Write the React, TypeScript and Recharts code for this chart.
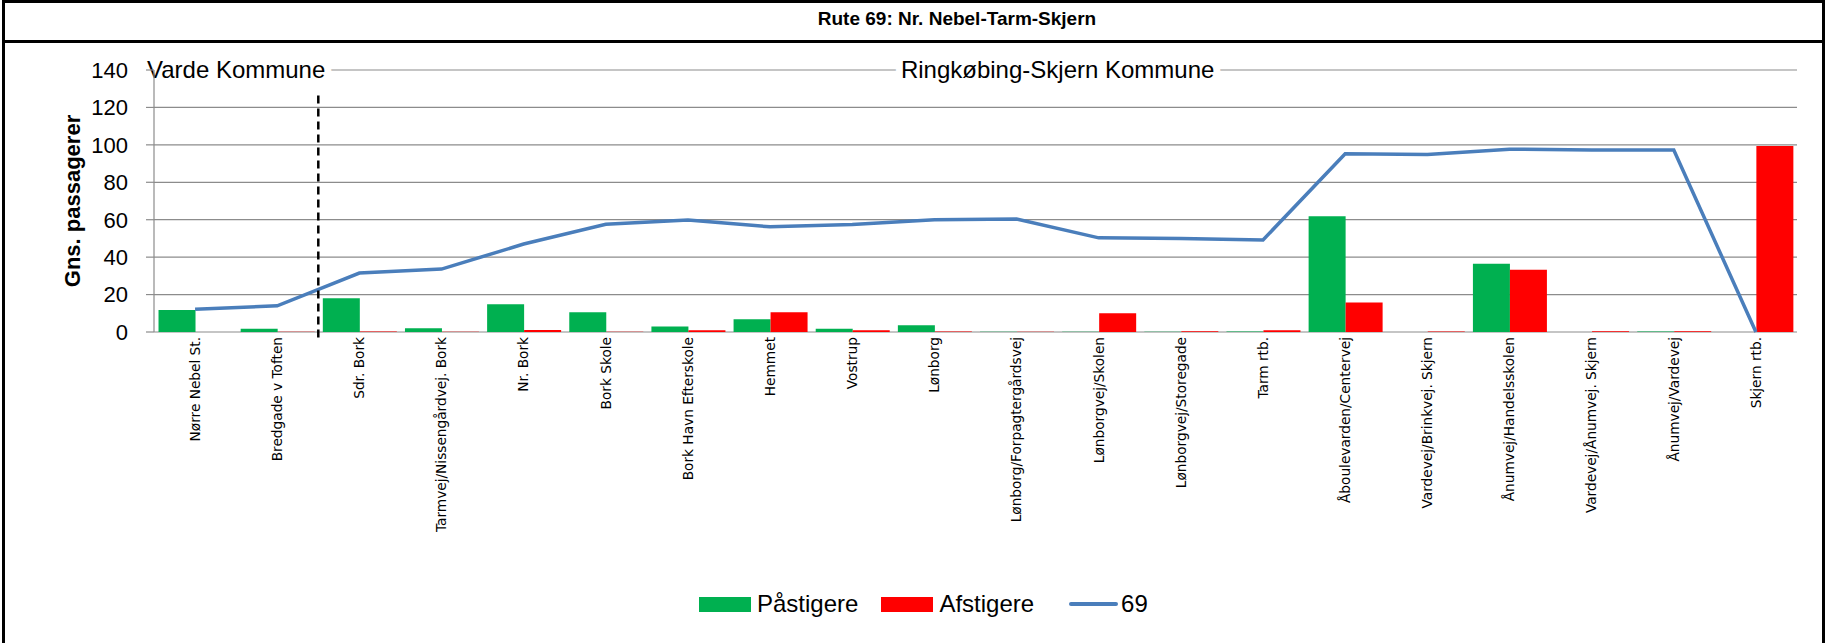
import { Bar, CartesianGrid, ComposedChart, Line, ReferenceLine, XAxis, YAxis } from "recharts"

const stops = [
  "Nørre Nebel St.",
  "Bredgade v Toften",
  "Sdr. Bork",
  "Tarmvej/Nissengårdvej. Bork",
  "Nr. Bork",
  "Bork Skole",
  "Bork Havn Efterskole",
  "Hemmet",
  "Vostrup",
  "Lønborg",
  "Lønborg/Forpagtergårdsvej",
  "Lønborgvej/Skolen",
  "Lønborgvej/Storegade",
  "Tarm rtb.",
  "Åboulevarden/Centervej",
  "Vardevej/Brinkvej. Skjern",
  "Ånumvej/Handelsskolen",
  "Vardevej/Ånumvej. Skjern",
  "Ånumvej/Vardevej",
  "Skjern rtb.",
]

// Påstigere
const boarding = [11.7, 1.8, 18, 2, 14.8, 10.5, 3, 6.8, 1.8, 3.6, 0.2, 0.2, 0.2, 0.3, 61.8, 0, 36.5, 0, 0.3, 0]
// Afstigere
const alighting = [0, 0.2, 0.3, 0.2, 1.1, 0.2, 0.9, 10.5, 0.9, 0.3, 0.2, 10, 0.4, 1, 15.7, 0.3, 33.3, 0.4, 0.4, 99.4]
// rute 69, gns. passagerer i bussen
const load = [12.2, 14, 31.5, 33.6, 47, 57.6, 59.9, 56.2, 57.5, 60, 60.4, 50.3, 49.9, 49.2, 95.2, 94.8, 97.7, 97.2, 97.2, 0]

const yTicks = [0, 20, 40, 60, 80, 100, 120, 140]

const municipalities = [
  { name: "Varde Kommune", from: 0, to: 2 },
  { name: "Ringkøbing-Skjern Kommune", from: 2, to: stops.length },
]

const data = stops.map((stop, i) => ({
  stop,
  pos: i + 0.5,
  on: boarding[i],
  off: alighting[i],
  r69: load[i],
}))

const boundaryTicks = stops.map((_, i) => i).concat(stops.length)

const font = "'Liberation Sans', Arial, sans-serif"
const grey = "#8c8c8c"
const green = "#00B050"
const red = "#FF0000"
const blue = "#4A7EBB"

const StopTick = (props: any) => {
  const { x, y, payload } = props
  return (
    <text
      x={x}
      y={y}
      transform={`rotate(-90 ${x} ${y})`}
      textAnchor="end"
      dy="0.35em"
      fontSize={13.7}
      fontFamily="'DejaVu Sans', sans-serif"
      fill="#000"
    >
      {payload.value}
    </text>
  )
}

const YTitle = (props: any) => {
  const vb = props.viewBox
  const cx = 72
  const cy = vb.y + vb.height / 2
  return (
    <text
      x={cx}
      y={cy}
      transform={`rotate(-90 ${cx} ${cy})`}
      textAnchor="middle"
      dy="0.35em"
      fontSize={22}
      fontWeight="bold"
      fontFamily={font}
      fill="#000"
    >
      Gns. passagerer
    </text>
  )
}

const regionLabel = (name: string) => (props: any) => {
  const vb = props.viewBox || {}
  const cx = vb.x1 !== undefined ? (vb.x1 + vb.x2) / 2 : vb.x + vb.width / 2
  const cy = vb.y1 !== undefined ? vb.y1 : vb.y
  return (
    <text
      x={cx}
      y={cy}
      dy="0.35em"
      textAnchor="middle"
      fontSize={24}
      fontFamily={font}
      fill="#000"
      stroke="#fff"
      strokeWidth={14}
      strokeLinejoin="round"
      style={{ paintOrder: "stroke" }}
    >
      {name}
    </text>
  )
}

const legendItems = [
  { label: "Påstigere", color: green, kind: "bar" },
  { label: "Afstigere", color: red, kind: "bar" },
  { label: "69", color: blue, kind: "line" },
]

export default function App() {
  return (
    <div style={{ position: "absolute", left: 0, top: 0, width: 1827, height: 643, background: "#fff", overflow: "hidden" }}>
      <div
        style={{
          position: "absolute",
          left: 2,
          top: 0,
          width: 1823,
          height: 700,
          border: "3px solid #000",
          boxSizing: "border-box",
        }}
      />
      <div style={{ position: "absolute", left: 2, top: 40, width: 1823, height: 3, background: "#000" }} />
      <div
        style={{
          position: "absolute",
          left: 0,
          top: 8,
          width: 1914,
          textAlign: "center",
          fontFamily: font,
          fontWeight: "bold",
          fontSize: 19,
          lineHeight: "22px",
        }}
      >
        Rute 69: Nr. Nebel-Tarm-Skjern
      </div>

      <div style={{ position: "absolute", left: 0, top: 0 }}>
        <ComposedChart
          width={1827}
          height={643}
          data={data}
          margin={{ top: 70, right: 30, bottom: 111, left: 0 }}
          barCategoryGap="5.5%"
          barGap={0}
        >
          <CartesianGrid vertical={false} stroke={grey} strokeWidth={1.2} />
          <XAxis
            xAxisId="num"
            dataKey="pos"
            type="number"
            domain={[0, stops.length]}
            ticks={boundaryTicks}
            allowDataOverflow
            tick={false}
            tickSize={6}
            height={0}
            stroke={grey}
            strokeWidth={1.2}
          />
          <XAxis
            dataKey="stop"
            interval={0}
            tickLine={false}
            axisLine={false}
            tickSize={0}
            tickMargin={5}
            height={200}
            tick={<StopTick />}
          />
          <YAxis
            domain={[0, 140]}
            ticks={yTicks}
            width={154}
            tickSize={8}
            tickMargin={18}
            stroke={grey}
            strokeWidth={1.2}
            tick={{ fill: "#000", fontSize: 22, fontFamily: font }}
            label={{ content: YTitle }}
          />
          <Bar dataKey="on" name="Påstigere" fill={green} isAnimationActive={false} />
          <Bar dataKey="off" name="Afstigere" fill={red} isAnimationActive={false} />
          <Line
            dataKey="r69"
            name="69"
            type="linear"
            stroke={blue}
            strokeWidth={3.5}
            dot={false}
            activeDot={false}
            isAnimationActive={false}
          />
          <ReferenceLine
            xAxisId="num"
            ifOverflow="visible"
            segment={[
              { x: 2, y: -3 },
              { x: 2, y: 129 },
            ]}
            stroke="#000"
            strokeWidth={2.5}
            strokeDasharray="8 5"
          />
          {municipalities.map((m) => (
            <ReferenceLine
              key={m.name}
              xAxisId="num"
              ifOverflow="visible"
              segment={[
                { x: m.from, y: 140 },
                { x: m.to, y: 140 },
              ]}
              stroke="none"
              label={{ content: regionLabel(m.name) }}
            />
          ))}
        </ComposedChart>
      </div>

      <div
        style={{
          position: "absolute",
          left: 699,
          top: 590,
          display: "flex",
          alignItems: "center",
          fontFamily: font,
          fontSize: 24,
        }}
      >
        {legendItems.map((item, i) => (
          <div key={item.label} style={{ display: "flex", alignItems: "center", marginLeft: i === 0 ? 0 : item.kind === "line" ? 35 : 23 }}>
            {item.kind === "bar" ? (
              <div style={{ width: 52, height: 15, background: item.color, marginRight: 6 }} />
            ) : (
              <div style={{ width: 49, height: 4, background: item.color, marginRight: 3, borderRadius: 2 }} />
            )}
            <span>{item.label}</span>
          </div>
        ))}
      </div>
    </div>
  )
}
